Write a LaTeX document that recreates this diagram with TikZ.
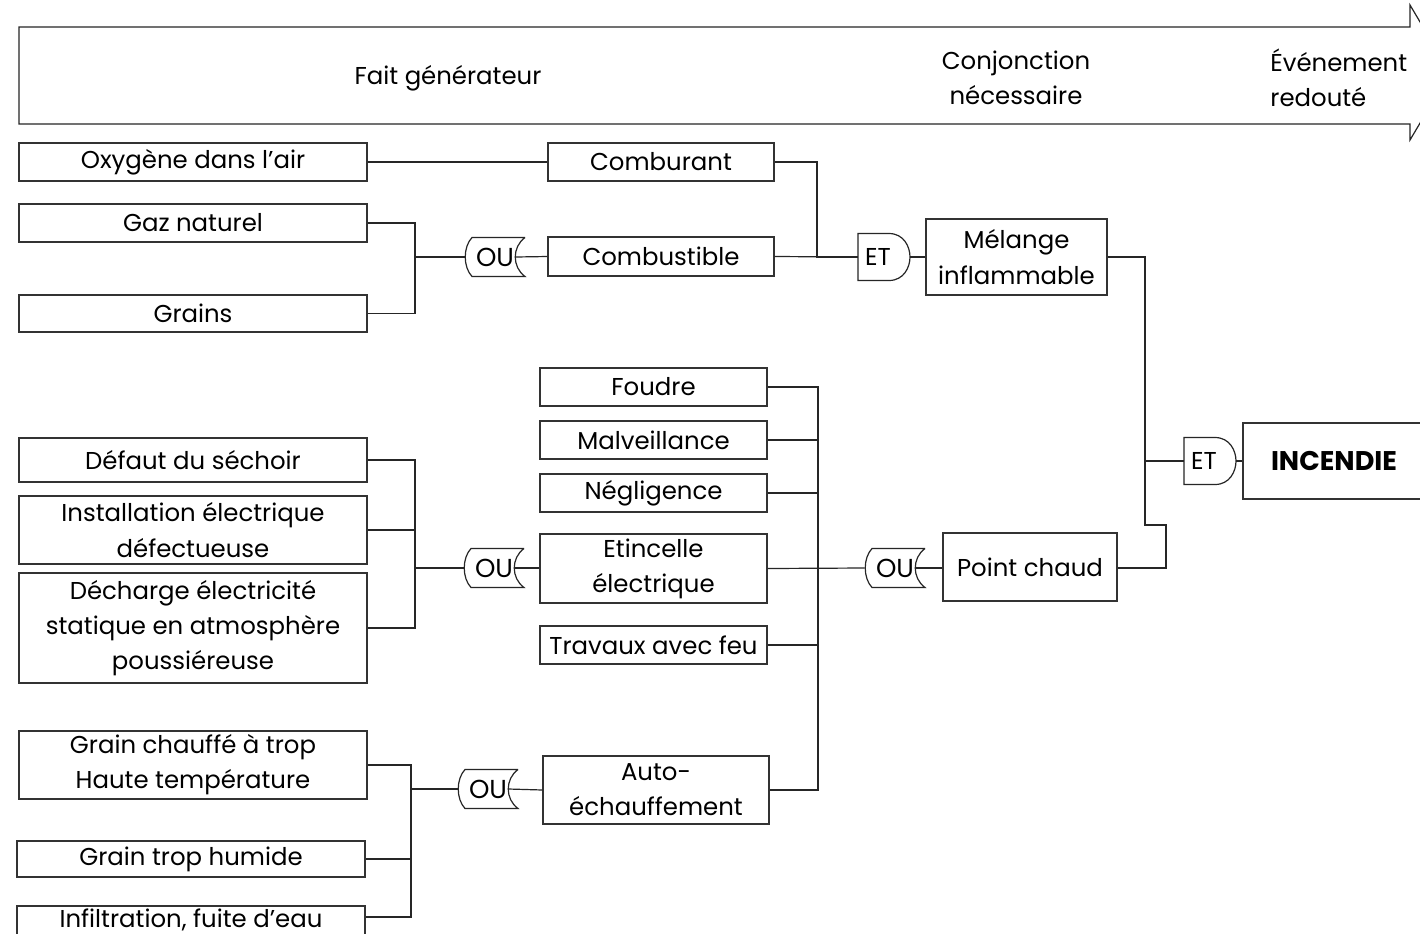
\documentclass[tikz,border=0pt]{standalone}
\usepackage{fontspec}
\setmainfont{Poppins}
\usetikzlibrary{calc}
\newcommand\fs{\fontsize{12.2}{17.6}\selectfont}
\newcommand\ap{\char"27{}}
\tikzset{
  box/.style={draw=black!80, line width=0.6pt, inner sep=0pt, align=center, font=\fs},
  wire/.style={draw=black!85, line width=0.6pt},
  gatelbl/.style={inner sep=0pt, font=\fontsize{13}{15}\selectfont},
  lbl/.style={inner sep=0pt, align=center, font=\fs},
}
\newcommand\mybox[6]{\node[box, minimum width={(#4-#2)*0.5pt}, minimum height={(#5-#3)*0.5pt}] (#1) at ({(#2+#4)/2},{(#3+#5)/2}) {#6};}
\newcommand\orgate[3]{%
  \node[gatelbl, minimum width=30pt, minimum height=19.5pt] (#1) at (#2,#3) {OU};
  \draw[wire] ({#2+30},{#3-19.5}) -- ({#2-23},{#3-19.5}) .. controls ({#2-32},{#3-10}) and ({#2-32},{#3+10}) .. ({#2-23},{#3+19.5}) -- ({#2+30},{#3+19.5}) .. controls ({#2+17},{#3+10}) and ({#2+17},{#3-10}) .. ({#2+30},{#3-19.5});
}
\newcommand\andgate[3]{%
  \node[gatelbl, minimum width=26pt, minimum height=23.5pt, font=\fontsize{12.2}{14}\selectfont] (#1) at (#2,#3) {ET\hspace*{6pt}};
  \draw[wire] ({#2-26},{#3-23.5}) -- ({#2+5},{#3-23.5}) .. controls ({#2+20},{#3-23.5}) and ({#2+26},{#3-10}) .. ({#2+26},{#3}) .. controls ({#2+26},{#3+10}) and ({#2+20},{#3+23.5}) .. ({#2+5},{#3+23.5}) -- ({#2-26},{#3+23.5}) -- cycle;
}
\begin{document}
\begin{tikzpicture}[x=0.5pt, y=-0.5pt]
\clip (0,0) rectangle (1420,933);
\fill[white] (0,0) rectangle (1420,933);
% timeline arrow
\draw[wire] (19,27) -- (1410,27) -- (1410,5) -- (1450,72.5) -- (1410,140) -- (1410,124) -- (19,124) -- cycle;
\node[lbl] (t1) at (448,78) {Fait générateur};
\node[lbl] (t2) at (1016,78) {Conjonction\\nécessaire};
\node[lbl, anchor=west, align=left] (t3) at (1270,78) {Événement\\redouté};
% left boxes
\mybox{oxy}{19}{143}{367}{181}{Oxygène dans l\ap air}
\mybox{gaz}{19}{204}{367}{242}{Gaz naturel}
\mybox{grains}{19}{295}{367}{332}{Grains}
\mybox{defaut}{19}{438}{367}{482}{Défaut du séchoir}
\mybox{install}{19}{496}{367}{564}{Installation électrique\\défectueuse}
\mybox{decharge}{19}{573}{367}{683}{Décharge électricité\\statique en atmosphère\\poussiéreuse}
\mybox{chauffe}{19}{731}{367}{799}{Grain chauffé à trop\\Haute température}
\mybox{humide}{17}{841}{365}{877}{Grain trop humide}
\mybox{infil}{17}{906}{365}{940}{\raisebox{4.5pt}{Infiltration, fuite d\ap eau}}
% middle boxes
\mybox{comburant}{548}{143}{774}{181}{Comburant}
\mybox{combustible}{548}{237}{774}{276}{Combustible}
\mybox{foudre}{540}{368}{767}{406}{Foudre}
\mybox{malv}{540}{421}{767}{459}{Malveillance}
\mybox{negl}{540}{474}{767}{512}{Négligence}
\mybox{etinc}{540}{534}{767}{603}{Etincelle\\électrique}
\mybox{travaux}{540}{626}{767}{664}{Travaux avec feu}
\mybox{auto}{543}{756}{769}{824}{Auto-\\échauffement}
% right boxes
\mybox{melange}{926}{219}{1107}{295}{Mélange\\inflammable}
\mybox{pchaud}{943}{533}{1117}{601}{Point chaud}
\node[box, minimum width=91pt, minimum height=38pt, font=\fontsize{13.5}{16}\selectfont\bfseries] (incendie) at (1334,461) {INCENDIE};
% gates
\orgate{g1}{495}{257}
\orgate{g2}{494}{568}
\orgate{g3}{895}{568}
\orgate{g4}{488}{789}
\andgate{et1}{884}{257}
\andgate{et2}{1210}{461}
% junction columns
\coordinate (j1) at (817,0);
\coordinate (j2) at (415,0);
\coordinate (j3) at (1145,0);
\coordinate (j3b) at (1166,0);
\coordinate (j4) at (818,0);
\coordinate (j5) at (415,0);
\coordinate (j6) at (411,0);
% connectors top
\draw[wire] (oxy.east) -- (comburant.west);
\draw[wire] (comburant.east) -- (comburant.east -| j1) |- (et1.west);
\draw[wire] (combustible.east) -- (et1.west);
\draw[wire] (gaz.east) -- (gaz.east -| j2) |- (g1.west);
\draw[wire] (grains.east) -- (grains.east -| j2) |- (g1.west);
\draw[wire] ([xshift=-5pt]g1.east) -- (combustible.west);
\draw[wire] (et1.east) -- (melange.west);
% right side
\coordinate (k1) at (1145,525);
\draw[wire] (melange.east) -- (melange.east -| j3) -- (k1) -| (j3b |- g3.east) -- (g3.east -| pchaud.east);
\draw[wire] (et2.west -| j3) -- (et2.west);
\draw[wire] (et2.east) -- (incendie.west);
% middle column
\draw[wire] (foudre.east) -- (foudre.east -| j4) -- (auto.east -| j4) -- (auto.east);
\draw[wire] (malv.east) -- (malv.east -| j4);
\draw[wire] (negl.east) -- (negl.east -| j4);
\draw[wire] (travaux.east) -- (travaux.east -| j4);
\draw[wire] (etinc.east) -- (g3.west);
\draw[wire] ([xshift=-5pt]g3.east) -- (g3.east -| pchaud.west);
% left middle group
\draw[wire] (defaut.east) -- (defaut.east -| j5) -- (decharge.east -| j5) -- (decharge.east);
\draw[wire] (install.east) -- (install.east -| j5);
\draw[wire] (g2.west -| j5) -- (g2.west);
\draw[wire] ([xshift=-5pt]g2.east) -- (g2.east -| etinc.west);
% bottom group
\draw[wire] (chauffe.east) -- (chauffe.east -| j6) -- ([yshift=3pt]infil.east -| j6) -- ([yshift=3pt]infil.east);
\draw[wire] (humide.east) -- (humide.east -| j6);
\draw[wire] (g4.west -| j6) -- (g4.west);
\draw[wire] ([xshift=-5pt]g4.east) -- (auto.west);
\end{tikzpicture}
\end{document}
